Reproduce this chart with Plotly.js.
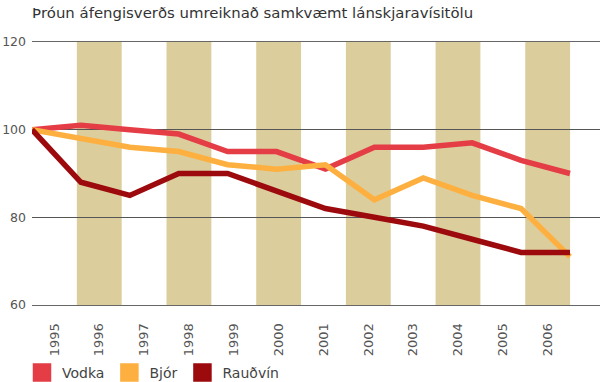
<!DOCTYPE html>
<html>
<head>
<meta charset="utf-8">
<script src="https://cdn.plot.ly/plotly-3.0.1.min.js"></script>
<style>html,body{margin:0;padding:0;background:#fff;}#chart{width:600px;height:382px;}</style>
</head>
<body>
<div id="chart"></div>
<script>
var years = [1995, 1996, 1997, 1998, 1999, 2000, 2001, 2002, 2003, 2004, 2005, 2006];
var tickLabels = ["1995", "1996", "1997", "1998", "1999", "2000", "2001", "2002", "2003", "2004", "2005", "2006"];
var vodka = [100, 101, 100, 99, 95, 95, 91, 96, 96, 97, 93, 90];
var bjor = [100, 98, 96, 95, 92, 91, 92, 84, 89, 85, 82, 71];
var raudvin = [100, 88, 85, 90, 90, 86, 82, 80, 78, 75, 72, 72];
var seriesNames = ["Vodka", "Bjór", "Rauðvín"];
var shadedYears = [1996, 1998, 2000, 2002, 2004, 2006];
var yTicks = [60, 80, 100, 120];

var colors = ["#E43D46", "#FDB040", "#9C0A0E"];
var font = "DejaVu Sans, sans-serif";
var allSeries = [vodka, bjor, raudvin];

var traces = [];
allSeries.forEach(function (s, i) {
  traces.push({
    x: years, y: s, xaxis: "x2", yaxis: "y", type: "scatter", mode: "lines",
    line: {color: colors[i], width: 5.5}, showlegend: false, hoverinfo: "skip"
  });
});
allSeries.forEach(function (s, i) {
  traces.push({
    x: [null], y: [null], xaxis: "x2", yaxis: "y", type: "scatter", mode: "markers",
    name: seriesNames[i],
    marker: {symbol: "square", size: 16, color: colors[i], line: {color: colors[i], width: 2.5}},
    showlegend: true
  });
});

var shapes = shadedYears.map(function (yr) {
  return {type: "rect", xref: "x", yref: "y", x0: yr - 0.5, x1: yr + 0.5, y0: 60, y1: 120,
          fillcolor: "#DCCD9D", line: {width: 0}, layer: "below"};
});

var layout = {
  width: 600, height: 382,
  margin: {l: 32, r: 0, t: 42, b: 77, autoexpand: false},
  paper_bgcolor: "#fff", plot_bgcolor: "rgba(0,0,0,0)",
  font: {family: font, color: "#444", size: 13},
  title: {text: "Þróun áfengisverðs umreiknað samkvæmt lánskjaravísitölu",
          xref: "container", yref: "container", x: 32 / 600, xanchor: "left",
          y: 1 - 13 / 382, yanchor: "middle",
          font: {family: font, size: 14.9, color: "#333"}},
  xaxis: {type: "linear", range: [1994.5, 2007.167], tickvals: years, ticktext: tickLabels,
          tickangle: -90, showgrid: false, zeroline: false,
          showline: true, mirror: true, linecolor: "#666", linewidth: 1, ticks: "",
          ticklabelstandoff: 12, tickfont: {family: font, size: 13, color: "#555"}, fixedrange: true},
  xaxis2: {type: "linear", overlaying: "x", range: [1995, 2006.614], visible: false},
  yaxis: {range: [60, 120], tickvals: yTicks, showgrid: true, gridcolor: "#555", gridwidth: 1,
          zeroline: false, showline: false, ticks: "", ticklabelstandoff: 5,
          tickfont: {family: font, size: 12.5, color: "#555"}},
  shapes: shapes,
  legend: {orientation: "h", xref: "container", yref: "paper", x: 22 / 600, xanchor: "left",
           y: -0.2586, yanchor: "middle", font: {family: font, size: 14, color: "#444"},
           itemsizing: "trace", traceorder: "normal", bgcolor: "rgba(0,0,0,0)"},
  showlegend: true
};

Plotly.newPlot("chart", traces, layout, {displayModeBar: false, staticPlot: true});
</script>
</body>
</html>
